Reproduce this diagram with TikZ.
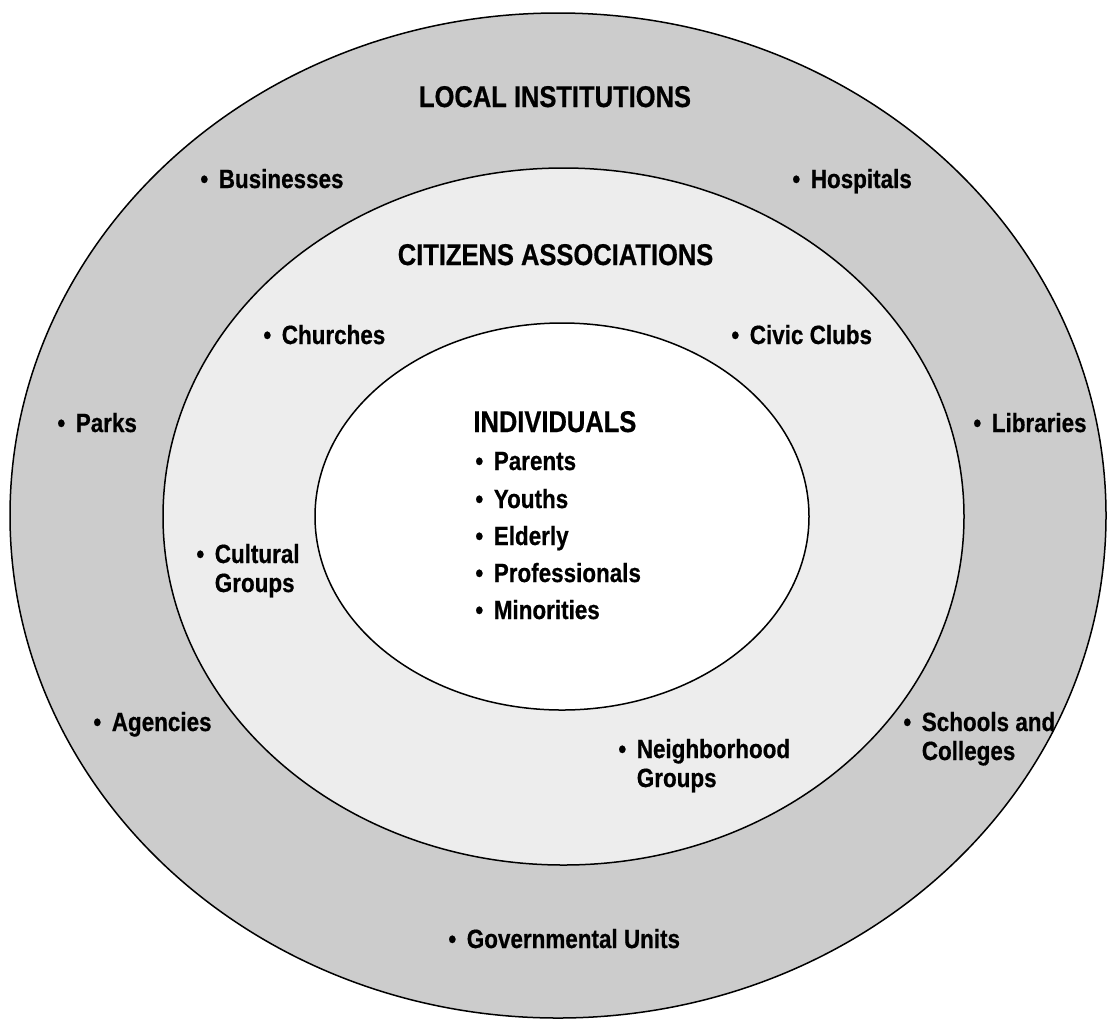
\documentclass[tikz,border=0pt]{standalone}
\usepackage{fontspec}
\setmainfont[FakeStretch=0.85,BoldFeatures={FakeBold=0.6}]{Liberation Sans}
\usepackage{tikz}
\usetikzlibrary{positioning}

\definecolor{outergray}{gray}{0.8}
\definecolor{middlegray}{gray}{0.93}
\newcommand{\itembul}{\textbullet\hspace{0.4em}}

\begin{document}
\begin{tikzpicture}[x=0.5pt,y=-0.5pt]
		\tikzset{ring/.style = {draw=black,line width=0.75pt}}
		\tikzset{head/.style = {inner sep=0pt,anchor=base,font=\bfseries\fontsize{15}{18}\selectfont}}
		\tikzset{item/.style = {inner sep=0pt,anchor=base west,align=left,font=\bfseries\fontsize{13.2}{14.5}\selectfont}}

		\useasboundingbox (0,0) rectangle (1107,1019);

		% rings
		\draw[ring,fill=outergray] (558,515.5) ellipse [x radius=548,y radius=502.5];
		\draw[ring,fill=middlegray] (563.5,516.5) ellipse [x radius=400.5,y radius=348.5];
		\draw[ring,fill=white] (562,516.5) ellipse [x radius=247,y radius=193.5];

		% local institutions
		\node[head] (lochead) at (555,107){LOCAL INSTITUTIONS};
		\node[item] (businesses) at (200,188){\itembul Businesses};
		\node[item] (hospitals) at (792,188){\itembul Hospitals};
		\node[item] (parks) at (57,432){\itembul Parks};
		\node[item] (libraries) at (973,432){\itembul Libraries};
		\node[item] (agencies) at (93,731){\itembul Agencies};
		\node[item] (schools) at (903,760){\itembul Schools and\\\hphantom{\itembul}Colleges};
		\node[item] (govunits) at (448,948){\itembul Governmental Units};

		% citizens associations
		\node[head] (cithead) at (555.5,265){CITIZENS ASSOCIATIONS};
		\node[item] (churches) at (263,344){\itembul Churches};
		\node[item] (civic) at (731,344){\itembul Civic Clubs};
		\node[item] (cultural) at (196,592){\itembul Cultural\\\hphantom{\itembul}Groups};
		\node[item] (neighbor) at (618,787){\itembul Neighborhood\\\hphantom{\itembul}Groups};

		% individuals
		\node[item,font=\bfseries\fontsize{15}{18}\selectfont] (indhead) at (473,432){INDIVIDUALS};
		\node[item] (parents) at (475,470){\itembul Parents};
		\node[item] (youths) at (475,508){\itembul Youths};
		\node[item] (elderly) at (475,545){\itembul Elderly};
		\node[item] (profs) at (475,582){\itembul Professionals};
		\node[item] (minorities) at (475,619){\itembul Minorities};
	\end{tikzpicture}
\end{document}
